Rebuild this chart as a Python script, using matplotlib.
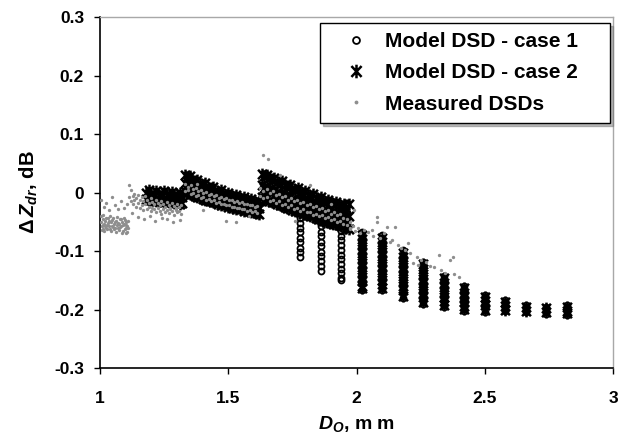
import matplotlib
matplotlib.use("Agg")
import matplotlib.pyplot as plt
from matplotlib.path import Path
import numpy as np

plt.rcParams['font.family'] = ['Liberation Sans', 'DejaVu Sans']
plt.rcParams['font.weight'] = 'bold'
plt.rcParams['mathtext.fontset'] = 'custom'
plt.rcParams['mathtext.rm'] = 'Liberation Sans:bold'
plt.rcParams['mathtext.it'] = 'Liberation Sans:italic'
plt.rcParams['mathtext.bf'] = 'Liberation Sans:bold'
plt.rcParams['mathtext.bfit'] = 'Liberation Sans:bold:italic'

# ---------------- data ----------------
# Model DSD - case 1 (open circles): vertical columns at discrete D0
case1_col_x = [1.78, 1.86, 1.94, 2.02, 2.10, 2.18, 2.26, 2.34, 2.42, 2.50, 2.58, 2.66, 2.74, 2.82]
case1_col_y = [
    [-0.044, -0.052, -0.060, -0.068, -0.077, -0.085, -0.094, -0.102, -0.111],
    [-0.050, -0.058, -0.067, -0.075, -0.084, -0.092, -0.101, -0.109, -0.117, -0.126, -0.134],
    [-0.058, -0.066, -0.074, -0.082, -0.090, -0.098, -0.106, -0.114, -0.122, -0.130, -0.138, -0.146, -0.150],
    [-0.068, -0.076, -0.084, -0.092, -0.100, -0.108, -0.116, -0.124, -0.132, -0.140, -0.148, -0.156, -0.166],
    [-0.073, -0.081, -0.089, -0.097, -0.105, -0.113, -0.121, -0.129, -0.137, -0.145, -0.153, -0.161, -0.167],
    [-0.099, -0.107, -0.115, -0.123, -0.131, -0.139, -0.147, -0.155, -0.163, -0.171, -0.180],
    [-0.119, -0.127, -0.135, -0.143, -0.151, -0.159, -0.167, -0.175, -0.183, -0.190],
    [-0.142, -0.150, -0.158, -0.166, -0.174, -0.182, -0.190, -0.196],
    [-0.159, -0.167, -0.175, -0.183, -0.191, -0.197, -0.202],
    [-0.175, -0.182, -0.189, -0.196, -0.204],
    [-0.183, -0.190, -0.197, -0.202],
    [-0.193, -0.199, -0.205],
    [-0.195, -0.201, -0.207],
    [-0.193, -0.199, -0.204, -0.209],
]

# Model DSD - case 2 (asterisks): three saw-tooth bands ...
case2_xA = [1.18, 1.19, 1.20, 1.21, 1.22, 1.23, 1.24, 1.25, 1.26, 1.27, 1.28, 1.29, 1.30, 1.31, 1.32]
case2_upA = [0.000, 0.004, -0.003, -0.002, 0.003, -0.004, -0.003, 0.002, -0.005, -0.004, 0.001, -0.006, -0.005, 0.000, -0.007]
case2_loA = [-0.011, -0.012, -0.013, -0.012, -0.014, -0.015, -0.014, -0.016, -0.015, -0.017, -0.016, -0.018, -0.017, -0.019, -0.018]

case2_xB = [1.33, 1.34, 1.35, 1.36, 1.37, 1.38, 1.39, 1.40, 1.41, 1.42, 1.43, 1.44, 1.45, 1.46, 1.47,
            1.48, 1.49, 1.50, 1.51, 1.52, 1.53, 1.54, 1.55, 1.56, 1.57, 1.58, 1.59, 1.60, 1.61, 1.62]
case2_upB = [0.030, 0.026, 0.028, 0.022, 0.018, 0.022, 0.015, 0.012, 0.016, 0.009, 0.006, 0.010, 0.003, 0.001, 0.005,
             -0.002, -0.004, 0.000, -0.006, -0.008, -0.004, -0.010, -0.012, -0.008, -0.013, -0.015, -0.011, -0.016, -0.018, -0.014]
case2_midB = [0.016, 0.013, 0.012, 0.010, 0.006, 0.007, 0.004, 0.000, 0.002, -0.002, -0.005, -0.003, -0.007, -0.009, -0.008,
              -0.011, -0.013, -0.012, -0.015, -0.017, -0.016, -0.018, -0.021, -0.019, -0.022, -0.024, -0.023, -0.025, -0.027, -0.026]
case2_loB = [0.002, 0.000, -0.003, -0.002, -0.006, -0.008, -0.007, -0.011, -0.013, -0.012, -0.015, -0.017, -0.016, -0.019, -0.021,
             -0.020, -0.022, -0.024, -0.023, -0.026, -0.028, -0.027, -0.029, -0.031, -0.030, -0.032, -0.034, -0.033, -0.035, -0.036]

case2_xC = [1.63, 1.64, 1.65, 1.66, 1.67, 1.68, 1.69, 1.70, 1.71, 1.72, 1.73, 1.74, 1.75, 1.76, 1.77, 1.78, 1.79, 1.80,
            1.81, 1.82, 1.83, 1.84, 1.85, 1.86, 1.87, 1.88, 1.89, 1.90, 1.91, 1.92, 1.93, 1.94, 1.95, 1.96, 1.97]
case2_upC = [0.032, 0.028, 0.030, 0.024, 0.021, 0.025, 0.018, 0.015, 0.019, 0.012, 0.009, 0.013, 0.006, 0.004, 0.008, 0.001, -0.002, 0.002,
             -0.004, -0.007, -0.003, -0.009, -0.012, -0.008, -0.014, -0.016, -0.012, -0.018, -0.020, -0.016, -0.022, -0.024, -0.020, -0.026, -0.020]
case2_midC = [0.012, 0.008, 0.010, 0.005, 0.002, 0.004, -0.001, -0.004, -0.002, -0.007, -0.009, -0.007, -0.012, -0.014, -0.012, -0.016, -0.019, -0.017,
              -0.021, -0.024, -0.022, -0.026, -0.029, -0.027, -0.031, -0.033, -0.031, -0.035, -0.037, -0.035, -0.039, -0.041, -0.039, -0.043, -0.041]
case2_loC = [-0.008, -0.012, -0.010, -0.015, -0.017, -0.016, -0.020, -0.022, -0.021, -0.025, -0.027, -0.026, -0.030, -0.032, -0.031, -0.034, -0.036, -0.035,
             -0.039, -0.041, -0.040, -0.043, -0.045, -0.044, -0.048, -0.050, -0.049, -0.052, -0.054, -0.053, -0.056, -0.058, -0.057, -0.060, -0.062]

# ... and columns for the larger D0
case2_col_x = [2.02, 2.10, 2.18, 2.26, 2.34, 2.42, 2.50, 2.58, 2.66, 2.74, 2.82]
case2_col_y = [
    [-0.072, -0.080, -0.088, -0.096, -0.104, -0.112, -0.120, -0.128, -0.136, -0.144, -0.152, -0.160, -0.163],
    [-0.077, -0.085, -0.093, -0.101, -0.109, -0.117, -0.125, -0.133, -0.141, -0.149, -0.157, -0.164],
    [-0.103, -0.111, -0.119, -0.127, -0.135, -0.143, -0.151, -0.159, -0.167, -0.177],
    [-0.123, -0.131, -0.139, -0.147, -0.155, -0.163, -0.171, -0.179, -0.187],
    [-0.146, -0.154, -0.162, -0.170, -0.178, -0.186, -0.193],
    [-0.163, -0.171, -0.179, -0.187, -0.194, -0.199],
    [-0.179, -0.186, -0.193, -0.201],
    [-0.187, -0.194, -0.200],
    [-0.196, -0.202],
    [-0.198, -0.204],
    [-0.196, -0.202, -0.206],
]

# Measured DSDs (grey dots)
meas_x1 = [1.002, 1.006, 1.010, 1.013, 1.017, 1.021, 1.025, 1.028, 1.032, 1.036, 1.040, 1.043, 1.047, 1.051, 1.055,
           1.058, 1.062, 1.066, 1.070, 1.073, 1.077, 1.081, 1.085, 1.088, 1.092, 1.096, 1.100, 1.103, 1.107, 1.110]
meas_y1a = [-0.050, -0.058, -0.046, -0.062, -0.053, -0.049, -0.060, -0.055, -0.044, -0.057, -0.063, -0.051, -0.047, -0.059, -0.054,
            -0.061, -0.048, -0.056, -0.052, -0.064, -0.045, -0.058, -0.050, -0.066, -0.053, -0.047, -0.060, -0.055, -0.068, -0.049]
meas_y1b = [-0.041, -0.064, -0.055, -0.038, -0.066, -0.057, -0.043, -0.062, -0.052, -0.048, -0.040, -0.065, -0.058, -0.044, -0.063,
            -0.050, -0.067, -0.042, -0.061, -0.054, -0.059, -0.046, -0.069, -0.056, -0.043, -0.062, -0.051, -0.070, -0.058, -0.060]
meas_x1s = [1.004, 1.015, 1.022, 1.035, 1.046, 1.058, 1.069, 1.083, 1.094, 1.105]
meas_y1s = [-0.012, -0.025, -0.018, -0.030, -0.008, -0.022, -0.028, -0.015, -0.026, -0.020]

meas_x2 = [1.113, 1.120, 1.127, 1.134, 1.141, 1.148, 1.155, 1.162, 1.169, 1.176, 1.183, 1.190, 1.197, 1.204, 1.211,
           1.218, 1.225, 1.232, 1.239, 1.246, 1.253, 1.260, 1.267, 1.274, 1.281, 1.288, 1.295, 1.302, 1.309, 1.316]
meas_y2a = [0.012, 0.004, -0.006, -0.002, -0.010, -0.004, -0.012, -0.008, -0.015, -0.006, -0.013, -0.018, -0.010, -0.016, -0.020,
            -0.012, -0.018, -0.022, -0.014, -0.020, -0.024, -0.016, -0.021, -0.026, -0.018, -0.023, -0.027, -0.020, -0.025, -0.022]
meas_y2b = [-0.008, -0.014, -0.020, -0.012, -0.024, -0.018, -0.027, -0.022, -0.030, -0.020, -0.028, -0.025, -0.032, -0.026, -0.029,
            -0.034, -0.027, -0.031, -0.036, -0.028, -0.033, -0.030, -0.035, -0.029, -0.032, -0.038, -0.030, -0.034, -0.031, -0.036]
meas_x2s = [1.125, 1.150, 1.170, 1.195, 1.215, 1.240, 1.262, 1.285, 1.310]
meas_y2s = [-0.035, -0.042, -0.045, -0.040, -0.048, -0.044, -0.046, -0.050, -0.047]

meas_x3 = [1.333, 1.343, 1.353, 1.363, 1.373, 1.383, 1.393, 1.403, 1.413, 1.423, 1.433, 1.443, 1.453, 1.463, 1.473,
           1.483, 1.493, 1.503, 1.513, 1.523, 1.533, 1.543, 1.553, 1.563, 1.573, 1.583, 1.593, 1.603, 1.613]
meas_y3a = [0.015, 0.010, 0.012, 0.006, 0.008, 0.002, 0.004, -0.001, 0.001, -0.004, -0.002, -0.006, -0.005, -0.009, -0.007,
            -0.011, -0.010, -0.013, -0.012, -0.016, -0.014, -0.018, -0.017, -0.020, -0.019, -0.022, -0.021, -0.025, -0.023]
meas_y3b = [0.002, 0.005, -0.003, 0.000, -0.006, -0.004, -0.010, -0.008, -0.012, -0.011, -0.015, -0.013, -0.018, -0.016, -0.020,
            -0.019, -0.022, -0.021, -0.025, -0.024, -0.027, -0.026, -0.029, -0.028, -0.031, -0.030, -0.033, -0.032, -0.035]
meas_x3s = [1.38, 1.40, 1.49, 1.53, 1.58]
meas_y3s = [0.015, -0.030, -0.048, -0.050, -0.040]

meas_x4 = [1.625, 1.637, 1.649, 1.661, 1.673, 1.685, 1.697, 1.709, 1.721, 1.733, 1.745, 1.757, 1.769, 1.781, 1.793,
           1.805, 1.817, 1.829, 1.841, 1.853, 1.865, 1.877, 1.889, 1.901, 1.913, 1.925, 1.937, 1.949, 1.961, 1.973]
meas_y4a = [0.008, 0.003, 0.006, -0.001, 0.002, -0.005, -0.002, -0.008, -0.006, -0.012, -0.009, -0.015, -0.013, -0.018, -0.016,
            -0.022, -0.020, -0.025, -0.023, -0.029, -0.027, -0.032, -0.030, -0.036, -0.034, -0.039, -0.037, -0.043, -0.045, -0.050]
meas_y4b = [-0.006, -0.010, -0.008, -0.014, -0.012, -0.018, -0.015, -0.021, -0.019, -0.024, -0.022, -0.028, -0.026, -0.031, -0.029,
            -0.034, -0.033, -0.038, -0.036, -0.041, -0.039, -0.044, -0.042, -0.047, -0.046, -0.050, -0.049, -0.054, -0.056, -0.060]
meas_x4s = [1.636, 1.655, 1.700, 1.760, 1.820, 1.900]
meas_y4s = [0.064, 0.058, 0.030, -0.048, 0.012, -0.020]

meas_x5 = [1.975, 1.985, 1.990, 1.995, 2.005, 2.015, 2.030, 2.045, 2.060, 2.065, 2.080, 2.080, 2.090, 2.105, 2.120,
           2.130, 2.140, 2.150, 2.160, 2.175, 2.190, 2.200, 2.210, 2.220, 2.235, 2.240, 2.250, 2.270, 2.285, 2.300,
           2.320, 2.330, 2.345, 2.365, 2.376, 2.380, 2.400]
meas_y5 = [-0.062, -0.058, -0.030, -0.066, -0.060, -0.070, -0.064, -0.068, -0.064, -0.074, -0.042, -0.050, -0.078, -0.070, -0.059,
           -0.084, -0.081, -0.059, -0.090, -0.095, -0.098, -0.086, -0.104, -0.120, -0.110, -0.124, -0.115, -0.118, -0.125, -0.128,
           -0.107, -0.132, -0.138, -0.115, -0.110, -0.140, -0.145]

legend_labels = ['Model DSD - case 1', 'Model DSD - case 2', 'Measured DSDs']
x_ticks = [1, 1.5, 2, 2.5, 3]
y_ticks = [-0.3, -0.2, -0.1, 0, 0.1, 0.2, 0.3]
x_tick_labels = ['1', '1.5', '2', '2.5', '3']
y_tick_labels = ['-0.3', '-0.2', '-0.1', '0', '0.1', '0.2', '0.3']

# ---------------- assemble ----------------
c1x, c1y = [], []
for xv, ys in zip(case1_col_x, case1_col_y):
    c1x += [xv] * len(ys)
    c1y += ys

c2x, c2y = [], []
for xs, rows in [(case2_xA, [case2_upA, case2_loA]),
                 (case2_xB, [case2_upB, case2_midB, case2_loB]),
                 (case2_xC, [case2_upC, case2_midC, case2_loC])]:
    for r in rows:
        c2x += xs
        c2y += r
for xv, ys in zip(case2_col_x, case2_col_y):
    c2x += [xv] * len(ys)
    c2y += ys

mx = (meas_x1 + meas_x1 + meas_x1s + meas_x2 + meas_x2 + meas_x2s + meas_x3 + meas_x3 + meas_x3s
      + meas_x4 + meas_x4 + meas_x4s + meas_x5)
my = (meas_y1a + meas_y1b + meas_y1s + meas_y2a + meas_y2b + meas_y2s + meas_y3a + meas_y3b + meas_y3s
      + meas_y4a + meas_y4b + meas_y4s + meas_y5)

# asterisk marker: vertical bar plus an X
star = Path([(0, -1), (0, 1), (-0.75, -0.8), (0.75, 0.8), (-0.75, 0.8), (0.75, -0.8)],
            [Path.MOVETO, Path.LINETO, Path.MOVETO, Path.LINETO, Path.MOVETO, Path.LINETO])

# ---------------- figure ----------------
fig = plt.figure(figsize=(6.25, 4.42), dpi=100)
ax = fig.add_axes([0.16, 0.1674, 0.821, 0.7941])

l2, = ax.plot(c2x, c2y, linestyle='none', marker=star, markersize=8.5, markeredgewidth=1.8,
              color='black', markerfacecolor='none', zorder=2)
l1, = ax.plot(c1x, c1y, linestyle='none', marker='o', markersize=4.3, markeredgewidth=1.3,
              markeredgecolor='black', markerfacecolor='none', zorder=3)
l3, = ax.plot(mx, my, linestyle='none', marker='o', markersize=2.4, markeredgewidth=0,
              color='#8e8e8e', zorder=4)

ax.set_xlim(1, 3)
ax.set_ylim(-0.3, 0.3)
ax.set_xticks(x_ticks)
ax.set_xticklabels(x_tick_labels)
ax.set_yticks(y_ticks)
ax.set_yticklabels(y_tick_labels)
ax.tick_params(axis='both', direction='out', length=4.5, width=1, colors='black', labelsize=12.5)
ax.tick_params(axis='x', pad=12)
ax.tick_params(axis='y', pad=7)
for t in ax.get_xticklabels() + ax.get_yticklabels():
    t.set_fontweight('bold')

for s in ['left', 'bottom']:
    ax.spines[s].set_linewidth(1.2)
    ax.spines[s].set_color('black')
for s in ['top', 'right']:
    ax.spines[s].set_linewidth(1.0)
    ax.spines[s].set_color('#a8a8a8')

ax.set_ylabel(r'$\Delta\,\mathbfit{Z}_{\mathbfit{dr}}$, dB', fontsize=14.5, fontweight='bold', labelpad=10)
ax.set_xlabel(r'$\mathbfit{D}_{\mathit{O}}$, m m', fontsize=14, fontweight='bold', labelpad=6)

leg = ax.legend([l1, l2, l3], legend_labels, loc='upper right',
                bbox_to_anchor=(0.429, 0.983 - 0.3, 0.565, 0.3), mode='expand',
                borderaxespad=0, fontsize=15, frameon=True, fancybox=False,
                shadow={'ox': 2, 'oy': -2, 'color': '#777777'},
                handlelength=2.5, handletextpad=0.15, borderpad=0.45, labelspacing=0.58,
                markerscale=1.15)
leg.get_frame().set_edgecolor('black')
leg.get_frame().set_linewidth(1.0)
for t in leg.get_texts():
    t.set_fontweight('bold')

fig.savefig('out.png', dpi=100)
